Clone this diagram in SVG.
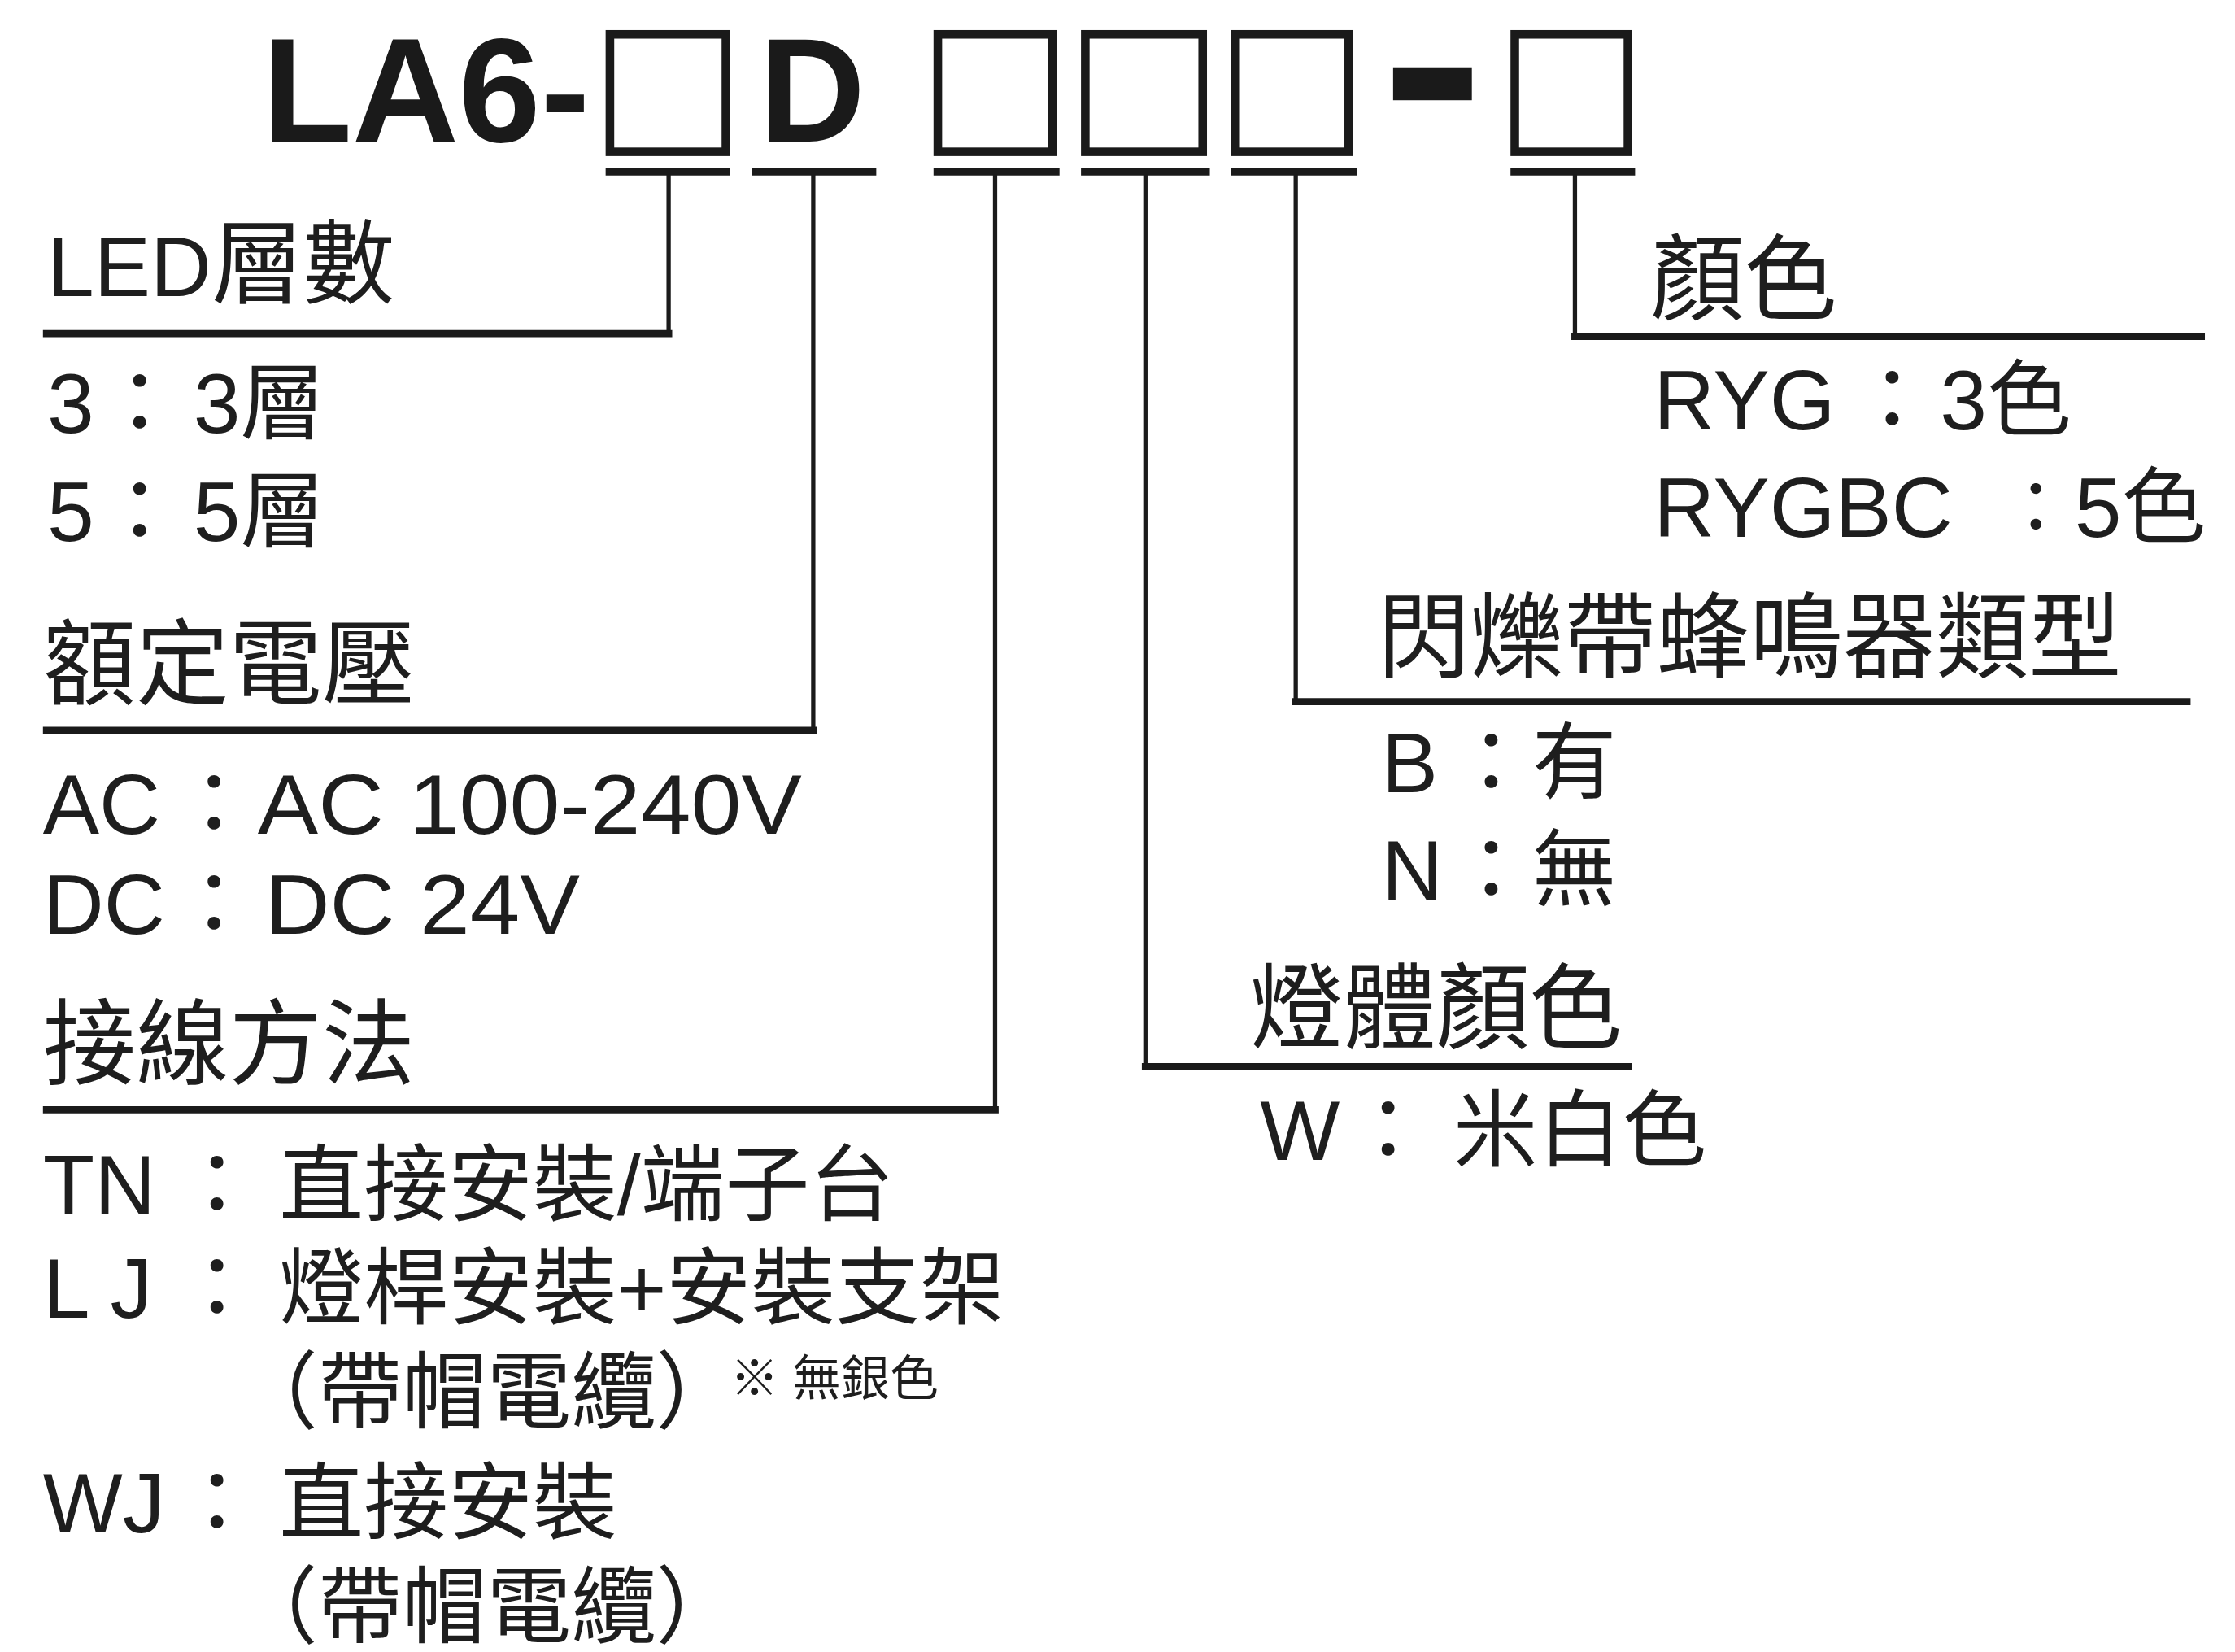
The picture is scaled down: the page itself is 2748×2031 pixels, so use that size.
<svg xmlns="http://www.w3.org/2000/svg" width="2748" height="2031" viewBox="0 0 2748 2031">
<style>
.t{font-family:"Liberation Sans","Noto Sans CJK TC",sans-serif;fill:#1e1e1e;font-size:59px}
.h{font-size:65px}
.b{font-weight:bold;font-size:103px;fill:#1a1a1a}
.s{font-size:34px}
.box{fill:none;stroke:#1a1a1a;stroke-width:6}
.ul{stroke:#1a1a1a;stroke-width:5}
.v{stroke:#1a1a1a;stroke-width:3;fill:none}
.hl{stroke:#1a1a1a;stroke-width:5}
</style>
<rect width="2748" height="2031" fill="#fff"/>
<g transform="scale(1.7604)">
<g id="title">
<text class="t b" x="183" y="99">LA6-</text>
<text class="t b" x="530" y="99">D</text>
<rect class="box" x="426" y="24" width="81" height="82"/>
<rect class="box" x="655" y="24" width="80" height="82"/>
<rect class="box" x="758" y="24" width="82" height="82"/>
<rect class="box" x="863" y="24" width="79" height="82"/>
<rect x="973" y="47" width="55" height="23" fill="#1a1a1a"/>
<rect class="box" x="1058" y="24" width="79" height="82"/>
<line class="ul" x1="423" y1="120" x2="510" y2="120"/>
<line class="ul" x1="525" y1="120" x2="612" y2="120"/>
<line class="ul" x1="652" y1="120" x2="740" y2="120"/>
<line class="ul" x1="755" y1="120" x2="845" y2="120"/>
<line class="ul" x1="860" y1="120" x2="948" y2="120"/>
<line class="ul" x1="1055" y1="120" x2="1142" y2="120"/>
</g>
<g id="connectors">
<path class="v" d="M467,122 V233"/>
<path class="v" d="M568,122 V510"/>
<path class="v" d="M695,122 V775"/>
<path class="v" d="M800,122 V745"/>
<path class="v" d="M905,122 V490"/>
<path class="v" d="M1100,122 V235"/>
<line class="hl" x1="30" y1="233" x2="469.5" y2="233"/>
<line class="hl" x1="30" y1="510" x2="570.5" y2="510"/>
<line class="hl" x1="30" y1="775" x2="697.5" y2="775"/>
<line class="hl" x1="797.5" y1="745" x2="1140" y2="745"/>
<line class="hl" x1="902.5" y1="490" x2="1530" y2="490"/>
<line class="hl" x1="1097.5" y1="235" x2="1540" y2="235"/>
</g>
<g id="led">
<text class="t" x="33" y="207">LED<tspan font-size="64">層數</tspan></text>
<text class="t" y="302"><tspan x="33">3</tspan><tspan x="68">：</tspan><tspan x="135">3層</tspan></text>
<text class="t" y="378"><tspan x="33">5</tspan><tspan x="68">：</tspan><tspan x="135">5層</tspan></text>
</g>
<g id="voltage">
<text class="t h" x="30" y="487">額定電壓</text>
<text class="t" y="582"><tspan x="30">AC</tspan><tspan x="120">：</tspan></text>
<text class="t" x="180" y="582" textLength="380" lengthAdjust="spacingAndGlyphs">AC 100-240V</text>
<text class="t" y="652"><tspan x="30">DC</tspan><tspan x="120">：</tspan></text>
<text class="t" x="185" y="652" textLength="220" lengthAdjust="spacingAndGlyphs">DC 24V</text>
</g>
<g id="wiring">
<text class="t h" x="30" y="752">接線方法</text>
<text class="t" y="848"><tspan x="30">TN</tspan><tspan x="122">：</tspan><tspan x="195">直接安裝/端子台</tspan></text>
<text class="t" y="920"><tspan x="30">L J</tspan><tspan x="122">：</tspan><tspan x="195">燈桿安裝+安裝支架</tspan></text>
<text class="t" y="993"><tspan x="163">（帶帽電纜）</tspan><tspan class="s" x="510" y="975">※ 無銀色</tspan></text>
<text class="t" y="1070"><tspan x="30">WJ</tspan><tspan x="122">：</tspan><tspan x="195">直接安裝</tspan></text>
<text class="t" x="163" y="1143">（帶帽電纜）</text>
</g>
<g id="color">
<text class="t h" x="1153" y="218">顏色</text>
<text class="t" y="300"><tspan x="1155">RYG</tspan><tspan x="1292">：</tspan><tspan x="1355">3色</tspan></text>
<text class="t" y="375"><tspan x="1155">RYGBC</tspan><tspan x="1397" font-size="50" dy="-3">：</tspan><tspan x="1449" dy="3">5色</tspan></text>
</g>
<g id="buzzer">
<text class="t h" x="962" y="468">閃爍帶蜂鳴器類型</text>
<text class="t" y="553"><tspan x="965">B</tspan><tspan x="1012">：</tspan><tspan x="1070">有</tspan></text>
<text class="t" y="628"><tspan x="965">N</tspan><tspan x="1012">：</tspan><tspan x="1070">無</tspan></text>
</g>
<g id="body">
<text class="t h" x="873" y="727">燈體顏色</text>
<text class="t" y="810"><tspan x="880">W</tspan><tspan x="940">：</tspan><tspan x="1015">米白色</tspan></text>
</g>
</g>
</svg>
